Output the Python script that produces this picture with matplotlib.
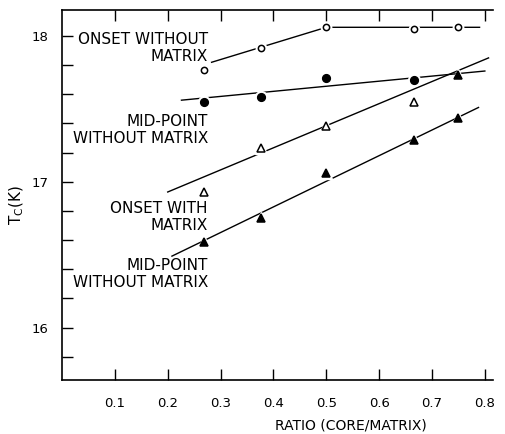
import numpy as np
import matplotlib
matplotlib.use("Agg")
import matplotlib.pyplot as plt

# ratio (core/matrix)
ratio = [0.268, 0.377, 0.5, 0.666, 0.75]

onset_no_matrix = [17.77, 17.92, 18.06, 18.05, 18.06]
mid_no_matrix = [17.55, 17.58, 17.71, 17.70]
onset_matrix = [16.93, 17.23, 17.38, 17.55, 17.73]
mid_matrix = [16.59, 16.75, 17.06, 17.29, 17.44]

# hand-drawn fit lines (x, y)
fit_onset_no_matrix = ([0.283, 0.5, 0.79], [17.82, 18.06, 18.06])
fit_mid_no_matrix = ([0.226, 0.80], [17.56, 17.76])
fit_onset_matrix = ([0.20, 0.807], [16.93, 17.85])
fit_mid_matrix = ([0.208, 0.788], [16.49, 17.51])

labels = [("ONSET WITHOUT\nMATRIX", 17.92),
          ("MID-POINT\nWITHOUT MATRIX", 17.355),
          ("ONSET WITH\nMATRIX", 16.76),
          ("MID-POINT\nWITHOUT MATRIX", 16.365)]

xticks = [0.1, 0.2, 0.3, 0.4, 0.5, 0.6, 0.7, 0.8]
yticks = [16, 17, 18]

plt.rcParams['font.family'] = ['DejaVu Sans']

fig = plt.figure(figsize=(5.05, 4.34), dpi=100)
ax = fig.add_axes([0.1228, 0.1244, 0.853, 0.853])

lw = 1.0
for fx, fy in [fit_onset_no_matrix, fit_mid_no_matrix, fit_onset_matrix, fit_mid_matrix]:
    ax.plot(fx, fy, color="black", lw=lw, zorder=1)

def marks(x, y, marker, filled, ms):
    # white halo so the line breaks around each point
    ax.plot(x, y, linestyle="none", marker=marker, ms=ms + 3,
            mfc="white", mec="white", zorder=2)
    ax.plot(x, y, linestyle="none", marker=marker, ms=ms,
            mfc="black" if filled else "white", mec="black", mew=1.1, zorder=3)

marks(ratio, onset_no_matrix, "o", False, 4.5)
marks(ratio[:4], mid_no_matrix, "o", True, 5.5)
marks(ratio[:4], onset_matrix[:4], "^", False, 5.5)
marks(ratio[4:], onset_matrix[4:], "^", True, 6)
marks(ratio, mid_matrix, "^", True, 6)

for text, y in labels:
    ax.text(0.276, y, text, ha="right", va="center", fontsize=11,
            linespacing=1.15, zorder=4)

ax.set_xlim(0, 0.815)
ax.set_ylim(15.64, 18.18)
ax.set_xticks(xticks)
ax.set_xticklabels([f"{v:.1f}" for v in xticks], fontsize=9.5)
ax.set_yticks(yticks)
ax.set_yticklabels([str(v) for v in yticks], fontsize=9.5)
ax.set_yticks(np.arange(15.8, 18.1, 0.2), minor=True)
ax.tick_params(axis="both", which="both", direction="in", length=8,
               width=1.0, top=True, right=False)
ax.tick_params(axis="x", pad=12)
ax.tick_params(axis="y", pad=10)
ax.spines["right"].set_visible(False)
for s in ["left", "bottom", "top"]:
    ax.spines[s].set_linewidth(1.2)

ax.set_xlabel("RATIO (CORE/MATRIX)", fontsize=10)
ax.xaxis.set_label_coords(0.67, -0.105)
fig.text(17 / 505, 1 - 205 / 434, r"T$_{\mathrm{C}}$(K)", rotation=90,
         ha="center", va="center", fontsize=11)

fig.savefig("out.png", dpi=100)
